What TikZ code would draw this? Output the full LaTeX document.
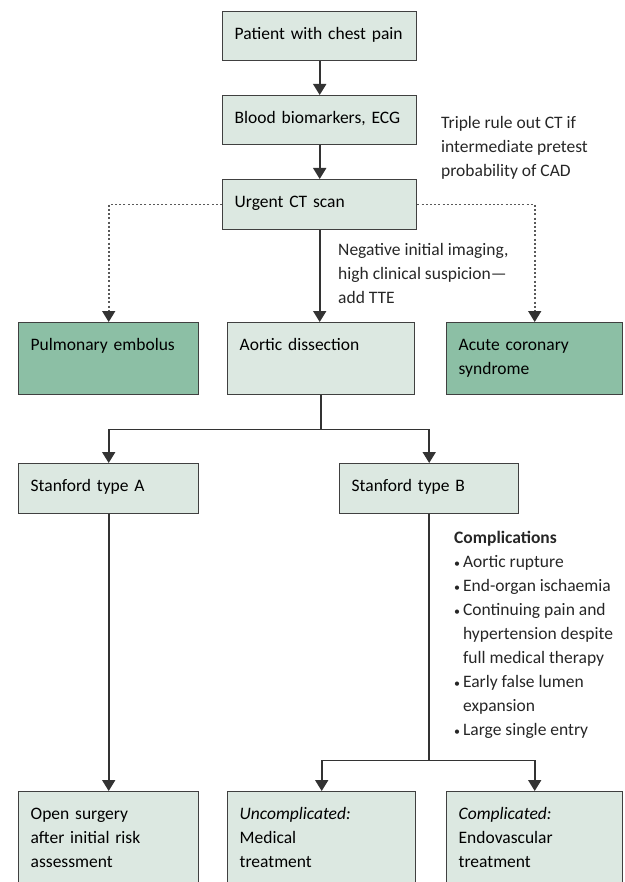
\documentclass[tikz,border=0pt]{standalone}
\usepackage{fontspec}
\setmainfont{Carlito}
\usetikzlibrary{calc,arrows.meta}
\definecolor{boxfill}{HTML}{DCE8E1}
\definecolor{darkfill}{HTML}{8CBFA5}
\definecolor{boxline}{HTML}{404040}
\newcommand{\bul}{{\fontsize{12}{12}\selectfont\raisebox{0.5pt}{•}}\,}

\begin{document}
\begin{tikzpicture}[
      x=1pt,y=-1pt,
      font=\fontsize{17.5}{24}\selectfont,
      stage/.style={draw=boxline,line width=1.4pt,fill=boxfill,anchor=north west,
        inner xsep=12pt,inner ysep=0pt,align=left,text height=28pt},
      outcome/.style={stage,fill=darkfill},
      note/.style={anchor=north west,inner sep=0pt,align=left,text=black!85},
      link/.style={line width=1.8pt,draw=black!80},
      flow/.style={link,-{Triangle[length=11pt,width=13pt]}},
      maybe/.style={line width=1.6pt,draw=black!65,dash pattern=on 2pt off 2.2pt,
        -{Triangle[length=11pt,width=13pt,color=black!80]}},
      ]
    \useasboundingbox (0,0) rectangle (624,882);

    % Position the nodes
    \node[stage,text width=170pt,text depth=21pt] (pain) at (222,11) {Patient with chest pain};
    \node[stage,text width=170pt,text depth=21pt] (markers) at (222,95) {Blood biomarkers, ECG};
    \node[stage,text width=170pt,text depth=22pt] (ct) at (222,179) {Urgent CT scan};

    \node[outcome,text width=156pt,text depth=44pt] (pe) at (18,322) {Pulmonary embolus};
    \node[stage,text width=163pt,text depth=44pt] (dissect) at (227,322) {Aortic dissection};
    \node[outcome,text width=152pt,text depth=44pt] (acs) at (446,322) {Acute coronary\\syndrome};

    \node[stage,text width=156pt,text depth=22pt] (typeA) at (18,463) {Stanford type A};
    \node[stage,text width=155pt,text depth=22pt] (typeB) at (339,463) {Stanford type B};

    \node[stage,text width=156pt,text depth=67pt] (surgery) at (18,791) {Open surgery\\after initial risk\\assessment};
    \node[stage,text width=164pt,text depth=67pt] (medical) at (227,791) {\textit{Uncomplicated:}\\Medical\\treatment};
    \node[stage,text width=152pt,text depth=67pt] (endo) at (446,791) {\textit{Complicated:}\\Endovascular\\treatment};

    % Notes beside the arrows
    \node[note] (triple) at (441,116) {Triple rule out CT if\\intermediate pretest\\probability of CAD};
    \node[note] (negative) at (338,243) {Negative initial imaging,\\high clinical suspicion---\\add TTE};
    \node[note] (complic) at (454,531) {\textbf{Complications}\\
      \bul Aortic rupture\\
      \bul End-organ ischaemia\\
      \bul Continuing pain and\\
      \phantom{\bul}hypertension despite\\
      \phantom{\bul}full medical therapy\\
      \bul Early false lumen\\
      \phantom{\bul}expansion\\
      \bul Large single entry};

    % Draw the arrows
    \path (pain.south) edge[flow] (markers.north);
    \path (markers.south) edge[flow] (ct.north);
    \path (ct.south) edge[flow] (ct.south |- dissect.north);
    \draw[maybe] (ct.west) -| (pe.north);
    \draw[maybe] (ct.east) -| (acs.north);

    \coordinate (split) at ($(dissect.south)+(0,34)$);
    \draw[link] (dissect.south) -- (split);
    \draw[flow] (split) -| (typeA.north);
    \draw[flow] (split) -| (typeB.north);

    \path (typeA.south) edge[flow] (surgery.north);
    \coordinate (splitB) at ($(typeB.south)+(0,246)$);
    \draw[link] (typeB.south) -- (splitB);
    \draw[flow] (splitB) -| (medical.north);
    \draw[flow] (splitB) -| (endo.north);

  \end{tikzpicture}
\end{document}
